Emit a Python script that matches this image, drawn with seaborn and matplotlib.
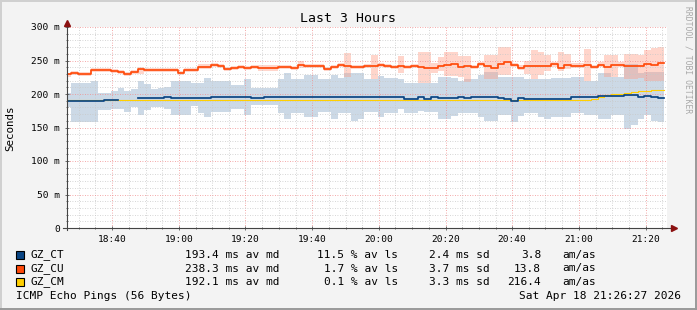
import numpy as np
import pandas as pd
import matplotlib
matplotlib.use("Agg")
import matplotlib.pyplot as plt
import matplotlib.dates as mdates
from matplotlib.ticker import MultipleLocator, FuncFormatter
from matplotlib.patches import Rectangle
from matplotlib.lines import Line2D
import seaborn as sns

plt.rcParams['font.family'] = ['DejaVu Sans Mono', 'DejaVu Sans']

# ---------------- data (2-minute bins starting 18:25:40) ----------------
start_time = "2026-04-18 18:25:40"
view_start = "2026-04-18 18:26:27"
view_end = "2026-04-18 21:26:27"

red_med = [230,232,230,230,236,236,236,235,233,230,
           233,238,236,236,236,236,236,232,236,236,
           241,241,244,242,238,239,241,239,241,239,
           239,239,241,241,239,244,242,242,242,238,
           241,244,242,241,241,242,242,244,242,241,
           242,241,242,241,239,239,242,244,245,241,
           242,241,245,242,239,245,248,244,239,242,
           242,242,242,245,239,244,242,242,244,241,
           244,241,244,244,242,242,242,245,244,247]
red_lo = [226,229,227,227,233,233,233,232,230,227,
          230,230,233,233,233,233,233,229,233,233,
          237,237,240,239,235,236,238,236,238,234,
          234,234,238,238,236,239,239,239,239,235,
          238,241,226,238,238,239,222,241,239,238,
          232,238,239,217,217,232,235,227,227,225,
          218,237,242,223,223,228,228,240,236,230,
          222,228,235,240,235,238,239,239,220,237,
          241,226,226,240,223,223,224,220,220,220]
red_hi = [232,235,233,233,239,239,239,238,236,233,
          236,241,239,239,239,239,239,235,239,239,
          245,245,247,245,241,242,244,242,244,244,
          244,244,244,244,242,249,245,245,245,241,
          244,247,261,244,244,245,258,247,245,244,
          257,244,245,263,263,246,255,262,262,257,
          257,244,248,258,258,270,270,247,243,250,
          265,262,258,248,262,260,246,246,267,244,
          248,258,258,248,260,260,258,266,268,270]

blue_med = [189,189,189,189,189,189,190.5,190.5,np.nan,np.nan,
            np.nan,194.5,194.5,194.5,194.5,196,194.5,194.5,194.5,194.5,
            194.5,194.5,196,196,196,196,196,196,194.5,194.5,
            196,196,196,196,196,196,196,196,196,196,
            196,196,196,196,196,196,196,196,196,196,
            196,193,193,196,193,196,194.5,194.5,194.5,196,
            194.5,196,196,196,196,194.5,193,190,194.5,193,
            193,193,193,193,193,193,196,196,196,196,
            197.5,197.5,197.5,197.5,198.5,198.5,196,197.5,196,194.5]
blue_lo = [181,158,158,158,158,176,176,177,177,173,
           180,168,176,180,180,178,168,168,168,182,
           172,166,173,173,173,177,177,168,183,183,
           183,183,171,162,171,171,165,165,173,173,
           162,172,172,160,163,173,173,165,172,172,
           177,172,172,174,173,173,163,163,167,172,
           172,172,165,160,160,168,168,158,167,171,
           171,165,163,165,165,165,172,172,168,168,
           162,162,168,168,148,153,162,168,160,158]
blue_hi = [201,217,217,217,219,201,201,205,209,205,
           208,220,215,208,209,210,220,220,220,216,
           217,224,219,219,219,214,214,222,209,209,
           209,209,222,232,223,223,229,229,223,223,
           229,224,231,232,231,223,223,227,224,224,
           222,217,217,217,216,216,226,226,224,219,
           222,222,229,233,233,226,226,226,225,222,
           222,222,223,224,224,224,225,225,220,220,
           232,232,226,226,245,245,232,233,233,233]

yellow_med = [191.5,191.5,191.5,191.5,191.5,191.5,191.5,191.5,191.5,191.5,
              191.5,191.5,191.5,191.5,191.5,191.5,191.5,191.5,191.5,191.5,
              191.5,191.5,191.5,191.5,191.5,191.5,191.5,191.5,191.5,191.5,
              191.5,191.5,191.5,191.5,191.5,191.5,191.5,191.5,191.5,191.5,
              191.5,191.5,191.5,191.5,191.5,191.5,191.5,191.5,191.5,191.5,
              191.5,191.5,191.5,191.5,191.5,191.5,191.5,191.5,191.5,191.5,
              191.5,191.5,191.5,191.5,191.5,191.5,191.5,191.5,191.5,191.5,
              191.5,191.5,191.5,191.5,191.5,191.5,191.5,191.5,191.5,192.5,
              195.5,198,199.5,199.5,201,203,205,204,205.5,206.5]

series_names = ["GZ_CT", "GZ_CU", "GZ_CM"]
series_colors = ["#0A4584", "#FF4A0A", "#FFCF00"]
stat_median = ["193.4 ms av md", "238.3 ms av md", "192.1 ms av md"]
stat_loss = ["11.5 % av ls", "1.7 % av ls", "0.1 % av ls"]
stat_sd = ["2.4 ms sd", "3.7 ms sd", "3.3 ms sd"]
stat_amas = ["3.8", "13.8", "216.4"]

# ---------------- figure ----------------
W, H = 697, 310
fig = plt.figure(figsize=(W / 100, H / 100), dpi=100, facecolor="#F3F3F3")
fx = lambda x: x / W
fy = lambda y: 1 - y / H

ax = fig.add_axes([fx(67), fy(228), 600 / W, 201 / H])
ax.set_facecolor("white")

n = len(red_med)
times = pd.date_range(start_time, periods=n + 1, freq="2min")


def ext(a):
    return list(a) + [a[-1]]


ax.fill_between(times, ext(blue_lo), ext(blue_hi), step="post",
                color="#CCD9E6", lw=0, zorder=1)
ax.fill_between(times, ext(red_lo), ext(red_hi), step="post",
                color="#FF9C85", alpha=0.42, lw=0, zorder=1.1)


def seg_frame(vals):
    rows = []
    seg = 0
    prev_ok = False
    for i, v in enumerate(vals):
        ok = not np.isnan(v)
        if ok:
            if not prev_ok:
                seg += 1
            rows.append((times[i], v, seg))
            nxt_ok = i + 1 < len(vals) and not np.isnan(vals[i + 1])
            if not nxt_ok:
                rows.append((times[i + 1], v, seg))
        prev_ok = ok
    return pd.DataFrame(rows, columns=["t", "v", "seg"])


for vals, col, lw in [(yellow_med, series_colors[2], 0.8),
                      (blue_med, series_colors[0], 1.25),
                      (red_med, series_colors[1], 1.25)]:
    df = seg_frame(vals)
    sns.lineplot(data=df, x="t", y="v", units="seg", estimator=None, ax=ax,
                 color=col, lw=lw, drawstyle="steps-post", zorder=4)

ax.set_xlim(pd.Timestamp(view_start), pd.Timestamp(view_end))
ax.set_ylim(0, 300)
ax.set_xlabel("")
ax.set_ylabel("")

ax.xaxis.set_major_locator(mdates.MinuteLocator(byminute=[0, 20, 40]))
ax.xaxis.set_minor_locator(mdates.MinuteLocator(byminute=range(0, 60, 5)))
ax.xaxis.set_major_formatter(mdates.DateFormatter("%H:%M"))
ax.yaxis.set_major_locator(MultipleLocator(50))
ax.yaxis.set_minor_locator(MultipleLocator(10))
ax.yaxis.set_major_formatter(FuncFormatter(lambda v, p: "0" if v == 0 else f"{int(v)} m"))

ax.set_axisbelow(False)
ax.grid(which="minor", color="#C8C8C8", ls=(0, (1, 2)), lw=0.6)
ax.grid(which="major", color="#F08C8C", ls=(0, (1, 2)), lw=0.6)

for s in ax.spines.values():
    s.set_visible(False)
ax.tick_params(which="both", direction="inout", color="#555555", width=0.6,
               labelsize=6.8, labelcolor="black")
ax.tick_params(which="major", length=3, pad=3.5)
ax.tick_params(which="minor", length=1.6)

# axis lines with arrows
ax.plot([-0.007, 1.012], [0, 0], transform=ax.transAxes, color="#444444",
        lw=0.8, clip_on=False, zorder=6)
ax.plot([0, 0], [-0.01, 1.02], transform=ax.transAxes, color="#444444",
        lw=0.8, clip_on=False, zorder=6)
ax.plot([1.012], [0], marker=">", ms=4, color="#8B1010", transform=ax.transAxes,
        clip_on=False, zorder=7)
ax.plot([0], [1.02], marker="^", ms=4, color="#8B1010", transform=ax.transAxes,
        clip_on=False, zorder=7)

# texts
fig.text(fx(348), fy(19), "Last 3 Hours", ha="center", va="center", fontsize=9.5)
fig.text(fx(10), fy(128), "Seconds", ha="center", va="center", rotation=90, fontsize=7.8)
fig.text(fx(688), fy(60), "RRDTOOL / TOBI OETIKER", ha="center", va="center",
         rotation=270, fontsize=5.8, color="#A8A8A8")

LF = 8.0
rows_y = [255, 268.5, 282]
for i in range(3):
    y = rows_y[i]
    fig.add_artist(Rectangle((fx(16), fy(y + 4)), 8 / W, 8 / H,
                             facecolor=series_colors[i], edgecolor="black", lw=0.8,
                             transform=fig.transFigure))
    fig.text(fx(30), fy(y), series_names[i], ha="left", va="center", fontsize=LF)
    fig.text(fx(185.5), fy(y), stat_median[i], ha="left", va="center", fontsize=LF)
    fig.text(fx(398), fy(y), stat_loss[i], ha="right", va="center", fontsize=LF)
    fig.text(fx(490), fy(y), stat_sd[i], ha="right", va="center", fontsize=LF)
    fig.text(fx(541), fy(y), stat_amas[i], ha="right", va="center", fontsize=LF)
    fig.text(fx(562.5), fy(y), "am/as", ha="left", va="center", fontsize=LF)

fig.text(fx(16), fy(296), "ICMP Echo Pings (56 Bytes)", ha="left", va="center", fontsize=LF)
fig.text(fx(681), fy(296), "Sat Apr 18 21:26:27 2026", ha="right", va="center", fontsize=LF)

# frame
fig.add_artist(Line2D([0, 1], [fy(0.7), fy(0.7)], color="#D0D0D0", lw=1.4))
fig.add_artist(Line2D([fx(0.7), fx(0.7)], [0, 1], color="#D0D0D0", lw=1.4))
fig.add_artist(Line2D([0, 1], [fy(309.3), fy(309.3)], color="#999999", lw=1.4))
fig.add_artist(Line2D([fx(696.3), fx(696.3)], [0, 1], color="#999999", lw=1.4))

fig.savefig("out.png", dpi=100, facecolor=fig.get_facecolor())
